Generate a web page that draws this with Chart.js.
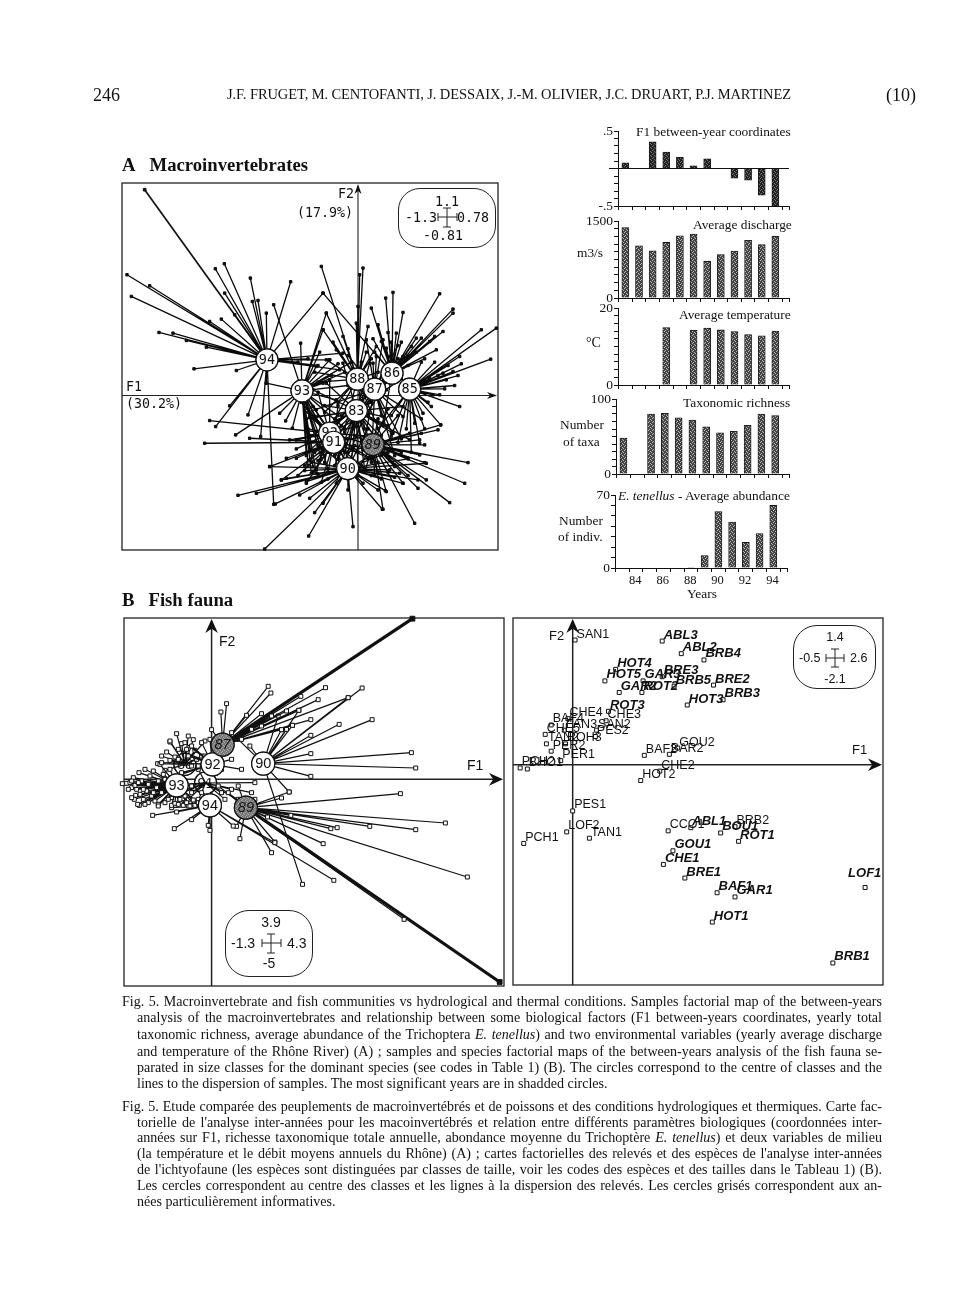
<!DOCTYPE html>
<html><head><meta charset="utf-8">
<script src="https://cdn.jsdelivr.net/npm/chart.js@4"></script>
<style>
html,body{margin:0;padding:0;background:#fff}
#page{position:relative;width:961px;height:1307px;overflow:hidden;color:#111;font-family:"Liberation Serif",serif;filter:blur(.35px)}
canvas{position:absolute}
.t{position:absolute;white-space:nowrap;transform:translateY(-50%);font-size:13.4px;line-height:1}
.c{transform:translate(-50%,-50%)}
.mono{font-family:"DejaVu Sans Mono",monospace;font-size:13.3px}
.sans{font-family:"Liberation Sans",sans-serif;font-size:14px}
.cap{position:absolute;left:122px;width:760px;font-size:14.05px;line-height:1;text-align:justify;text-align-last:justify;white-space:nowrap;transform:translateY(-50%)}
.ind{left:137px;width:745px}
.end{text-align-last:left}
.box{position:absolute;border:1.3px solid #222;background:#fff;box-sizing:border-box}
svg{position:absolute;overflow:visible}
</style></head><body>
<div id="page">
<div class="t" style="left:93px;top:95px;font-size:18px">246</div>
<div class="t" style="left:227px;top:94px;font-size:14.5px;letter-spacing:-.1px">J.F. FRUGET, M. CENTOFANTI, J. DESSAIX, J.-M. OLIVIER, J.C. DRUART, P.J. MARTINEZ</div>
<div class="t" style="left:886px;top:95px;font-size:18px">(10)</div>
<div class="t" style="left:122px;top:165px;font-size:18.7px;font-weight:bold">A&nbsp;&nbsp;&nbsp;Macroinvertebrates</div>
<div class="t" style="left:122px;top:600px;font-size:18.7px;font-weight:bold">B&nbsp;&nbsp;&nbsp;Fish fauna</div>

<canvas id="panelA" width="400" height="391" style="left:110px;top:171px"></canvas>
<canvas id="panelB1" width="404" height="392" style="left:112px;top:606px"></canvas>
<canvas id="panelB2" width="394" height="391" style="left:501px;top:606px"></canvas>
<canvas id="bar1" width="240" height="96" style="left:555px;top:120px"></canvas>
<canvas id="bar2" width="240" height="98" style="left:555px;top:210px"></canvas>
<canvas id="bar3" width="240" height="98" style="left:555px;top:297px"></canvas>
<canvas id="bar4" width="240" height="96" style="left:555px;top:388px"></canvas>
<canvas id="bar5" width="240" height="104" style="left:552px;top:484px"></canvas>

<div class="t mono" style="left:126px;top:387px">F1</div>
<div class="t mono" style="left:126px;top:404px">(30.2%)</div>
<div class="t mono" style="left:338px;top:194px">F2</div>
<div class="t mono" style="left:297px;top:213px">(17.9%)</div>
<div class="box" style="left:398px;top:188px;width:98px;height:60px;border-radius:22px"></div>
<div class="t c mono" style="left:447px;top:202px">1.1</div>
<div class="t mono" style="left:405px;top:218px">-1.3</div>
<div class="t mono" style="left:457px;top:218px">0.78</div>
<div class="t c mono" style="left:443px;top:236px">-0.81</div>
<svg style="left:447px;top:217px" width="1" height="1"><path d="M-9 0H10M-9 -4V4M10 -4V4M0 -9V10M-4 -9H4M-4 10H4" stroke="#222" fill="none"/></svg>

<div class="t sans" style="left:219px;top:641px">F2</div>
<div class="t sans" style="left:467px;top:765px">F1</div>
<div class="box" style="left:225px;top:910px;width:88px;height:67px;border-radius:24px"></div>
<div class="t c sans" style="left:271px;top:922px">3.9</div>
<div class="t sans" style="left:231px;top:943px">-1.3</div>
<div class="t sans" style="left:287px;top:943px">4.3</div>
<div class="t c sans" style="left:269px;top:963px">-5</div>
<svg style="left:271px;top:943px" width="1" height="1"><path d="M-9 0H10M-9 -4V4M10 -4V4M0 -9V10M-4 -9H4M-4 10H4" stroke="#222" fill="none"/></svg>

<div class="t sans" style="left:549px;top:635px;font-size:13px">F2</div>
<div class="t sans" style="left:852px;top:749px;font-size:13px">F1</div>
<div class="box" style="left:793px;top:625px;width:83px;height:64px;border-radius:24px"></div>
<div class="t c sans" style="left:835px;top:637px;font-size:12.5px">1.4</div>
<div class="t sans" style="left:799px;top:658px;font-size:12.5px">-0.5</div>
<div class="t sans" style="left:850px;top:658px;font-size:12.5px">2.6</div>
<div class="t c sans" style="left:835px;top:679px;font-size:12.5px">-2.1</div>
<svg style="left:835px;top:658px" width="1" height="1"><path d="M-9 0H9M-9 -4V4M9 -4V4M0 -9V9M-4 -9H4M-4 9H4" stroke="#222" fill="none"/></svg>

<div class="t" style="left:636px;top:132px">F1 between-year coordinates</div>
<div class="t" style="left:693px;top:225px">Average discharge</div>
<div class="t" style="left:577px;top:253px">m3/s</div>
<div class="t" style="left:679px;top:315px">Average temperature</div>
<div class="t" style="left:586px;top:343px;font-size:14px">°C</div>
<div class="t" style="left:683px;top:403px">Taxonomic richness</div>
<div class="t" style="left:560px;top:425px">Number</div>
<div class="t" style="left:563px;top:442px">of taxa</div>
<div class="t" style="left:618px;top:496px"><i>E. tenellus</i> - Average abundance</div>
<div class="t" style="left:559px;top:521px">Number</div>
<div class="t" style="left:558px;top:537px">of indiv.</div>
<div class="t" style="left:687px;top:594px">Years</div>

<div class="cap" style="top:1001px">Fig. 5. Macroinvertebrate and fish communities vs hydrological and thermal conditions. Samples factorial map of the between-years</div>
<div class="cap ind" style="top:1017px">analysis of the macroinvertebrates and relationship between some biological factors (F1 between-years coordinates, yearly total</div>
<div class="cap ind" style="top:1034px">taxonomic richness, average abundance of the Trichoptera <i>E. tenellus</i>) and two environmental variables (yearly average discharge</div>
<div class="cap ind" style="top:1051px">and temperature of the Rhône River) (A) ; samples and species factorial maps of the between-years analysis of the fish fauna se-</div>
<div class="cap ind" style="top:1067px">parated in size classes for the dominant species (see codes in Table 1) (B). The circles correspond to the centre of classes and the</div>
<div class="cap ind end" style="top:1083px">lines to the dispersion of samples. The most significant years are in shadded circles.</div>
<div class="cap" style="top:1106px">Fig. 5. Etude comparée des peuplements de macroinvertébrés et de poissons et des conditions hydrologiques et thermiques. Carte fac-</div>
<div class="cap ind" style="top:1122px">torielle de l'analyse inter-années pour les macoinvertébrés et relation entre différents paramètres biologiques (coordonnées inter-</div>
<div class="cap ind" style="top:1137px">années sur F1, richesse taxonomique totale annuelle, abondance moyenne du Trichoptère <i>E. tenellus</i>) et deux variables de milieu</div>
<div class="cap ind" style="top:1153px">(la température et le débit moyens annuels du Rhône) (A) ; cartes factorielles des relevés et des espèces de l'analyse inter-années</div>
<div class="cap ind" style="top:1169px">de l'ichtyofaune (les espèces sont distinguées par classes de taille, voir les codes des espèces et des tailles dans le Tableau 1) (B).</div>
<div class="cap ind" style="top:1185px">Les cercles correspondent au centre des classes et les lignes à la dispersion des relevés. Les cercles grisés correspondent aux an-</div>
<div class="cap ind end" style="top:1201px">nées particulièrement informatives.</div>
</div>
<script>
// ---- bar panels: one value per year ----
const years = [83,84,85,86,87,88,89,90,91,92,93,94];
const f1Coords = [.075,0,.355,.22,.15,.035,.13,0,-.13,-.155,-.355,-.5];
const discharge = [1370,1017,920,1083,1213,1246,717,848,913,1122,1043,1200];
const temperature = [null,null,null,14.9,null,14.2,14.8,14.3,13.9,13.1,12.8,14.0];
const richness = [48,null,80,81,75,72,63,55,57,65,80,78];
const abundance = [0,0,0,0,0,.5,12,54,44,24.5,33,60];
const yearTicks = [82.5,83.5,84.5,85.5,86.5,87.5,88.5,89.5,90.5,91.5,92.5,93.5,94.5,95];

// ---- panel A (macroinvertebrates): year centres, scores in axis units ----
const aRange = {xMin:-708,xMax:420,yMin:-463,yMax:637};
const aYears = ['94','93','88','86','85','87','83','92','91','89','90'];
const aCentreF1 = [-273,-168,-2,102,155,50,-5,-85,-73,45,-31];
const aCentreF2 = [107,14,49,67,19,19,-45,-113,-140,-147,-219];
const aShaded = ['89'];
const aEnds94 = [[-693,362],[-625,329],[-680,297],[-597,189],[-555,187],[-515,165],[-455,145],[-445,222],[-410,229],[-400,307],[-428,380],[-401,395],[-370,242],[-323,352],[-317,282],[-300,285],[-275,247],[-202,341],[-492,80],[-365,75],[-427,-93],[-385,-31],[-330,-58],[-275,37],[-292,-123],[-253,-326],[-105,307],[-85,107],[-45,127],[-55,77],[-150,110],[-120,90],[-180,100]];
const aEnds93 = [[-172,157],[-253,272],[-105,197],[-95,247],[-367,-118],[-235,-53],[-217,-76],[-197,-98],[-85,107],[-275,37],[-125,-43],[-105,37],[-125,87],[-145,-163],[-140,-233],[-125,-233],[-45,-163],[-65,-13],[-95,-123],[-135,-213],[-155,-180],[-80,60],[-60,95],[-115,130],[-50,-90],[-110,-190],[-100,-160],[-120,-150],[-90,-220],[-130,-120],[-70,-180],[-150,-210],[-40,70],[-20,100],[-30,30],[-60,-60]];
const aEnds88 = [[-110,387],[15,382],[5,362],[-95,247],[0,267],[-45,177],[-105,197],[30,207],[55,147],[-65,137],[-5,217],[-95,107],[-75,160],[-30,140],[25,130],[-130,70],[-120,40],[40,110],[60,70],[85,40],[-60,-20],[-70,-70],[30,-60],[-15,80],[10,100],[-40,-100],[20,-100],[70,-120],[-100,-50]];
const aEnds86 = [[245,305],[285,259],[285,247],[255,192],[190,172],[175,172],[135,249],[105,309],[83,292],[40,262],[60,212],[70,162],[90,189],[115,187],[215,162],[235,137],[85,142],[160,147],[230,177],[175,130],[200,110],[130,160],[45,170],[50,130],[-105,307],[150,120],[100,160],[120,110],[30,-50],[75,-90],[-20,-30]];
const aEnds85 = [[415,202],[370,197],[398,109],[305,117],[285,72],[305,-33],[245,2],[225,2],[255,67],[265,47],[220,-33],[170,-83],[185,-143],[195,-53],[248,-88],[300,60],[310,95],[260,20],[230,100],[215,50],[190,100],[290,30],[200,-100],[145,-100],[120,-140],[160,-170],[240,60],[270,90],[210,-20],[100,-60],[60,-100],[100,-120]];
const aEnds87 = [[25,167],[55,117],[135,117],[45,97],[135,-63],[95,117],[75,167],[120,150],[150,90],[170,130],[-30,120],[-50,-60],[100,-110],[130,-130],[-90,-110],[20,-130],[-40,-110],[190,-70],[-150,-50],[0,-80],[70,-60],[-20,-160],[40,-200],[-60,-190],[110,-180]];
const aEnds83 = [[-125,-63],[-105,-143],[75,-63],[105,-113],[-85,-83],[85,17],[-95,37],[-45,97],[35,97],[-135,17],[135,-33],[105,-163],[-145,-123],[155,-133],[15,-163],[-65,-263],[-155,-70],[60,-230],[110,-210],[-120,-195],[-30,-170],[40,-20],[-100,-30],[130,50],[-60,-120],[30,-120],[-20,-200],[20,-220],[70,-150],[-110,-100],[90,-90],[-70,-210],[0,-240],[-40,-230]];
const aEnds92 = [[-445,-75],[-85,47],[-145,-63],[-205,-133],[-185,-133],[-135,-33],[-145,-163],[-125,-223],[-5,-93],[55,-123],[-100,-200],[-160,-210],[-60,-220],[-30,-40],[-120,10],[-170,-20],[40,-190],[-185,-160],[-140,-120],[-30,-130],[-60,-170],[-110,-170],[10,-140],[-20,-80],[-150,-100]];
const aEnds91 = [[-460,-143],[-325,-128],[-265,-213],[-215,-188],[-155,-263],[-230,-253],[-155,-143],[-185,-188],[-145,-193],[-135,-228],[-130,-70],[-150,-40],[-30,-250],[-90,-230],[10,-210],[-170,-20],[-110,-260],[-60,-30],[30,-120],[60,-200],[-180,-240],[-120,-120],[-100,-180],[-40,-170],[-20,-220],[0,-170],[-60,-80],[-130,-170],[40,-160]];
const aEnds89 = [[330,-201],[320,-263],[275,-321],[170,-383],[200,-201],[205,-253],[180,-278],[248,-88],[185,-133],[200,-148],[185,-178],[135,-263],[110,-213],[85,-288],[75,-341],[155,-113],[190,-113],[150,-188],[110,-208],[240,-103],[60,-70],[120,-60],[20,-230],[90,-230],[150,-240],[-30,-170],[90,-40],[70,-180],[30,-190],[-10,-120],[0,-220],[130,-170],[50,-240],[100,-130]];
const aEnds90 = [[-280,-460],[-148,-421],[-360,-299],[-305,-293],[-248,-325],[-230,-253],[-175,-298],[-145,-308],[-130,-351],[-105,-323],[-15,-393],[-30,-283],[73,-341],[60,-283],[82,-285],[180,-253],[135,-263],[-265,-213],[-215,-248],[-155,-258],[205,-203],[95,-223],[125,-233],[15,-263],[40,-180],[-90,-170],[-140,-200],[-40,-130],[30,-100],[-110,-120],[90,-170],[150,-190],[-160,-225],[-120,-235],[-90,-250],[70,-250],[110,-245],[40,-240],[-10,-150],[-70,-120]];
const aEndsByYear = [aEnds94,aEnds93,aEnds88,aEnds86,aEnds85,aEnds87,aEnds83,aEnds92,aEnds91,aEnds89,aEnds90];
const aBoldEnd = [-640,617];

// ---- panel B left (fish samples) ----
const bRange = {xMin:-263,xMax:878,yMin:-620,yMax:484};
const bBackYears = ['88','91'];
const bBackF1 = [-80,-18];
const bBackF2 = [45,-11];
const bFrontYears = ['92','93','87','90','94','89'];
const bFrontF1 = [3,-105,33,155,-5,103];
const bFrontF2 = [45,-18,104,47,-78,-85];
const bShaded = ['87','89'];
const bEnds88 = [[-105,137],[-55,119],[-125,112],[-135,82],[-162,47],[-125,57],[-90,107],[-50,87],[-110,67],[-140,27],[-60,40],[-30,70],[-125,115],[-150,70],[-20,115],[-70,130],[-100,60],[-75,90],[-45,60]];
const bEnds92 = [[-80,110],[-30,110],[-150,50],[-100,90],[60,60],[90,30],[-20,70],[-140,0],[-5,120],[-60,100],[-40,40],[-70,70],[-90,20],[30,30]];
const bEnds87 = [[170,279],[178,259],[45,227],[28,202],[105,192],[150,197],[342,275],[268,249],[320,239],[225,205],[262,207],[150,160],[0,149],[210,149],[243,162],[298,179],[410,245],[120,150],[90,120],[180,190],[60,140]];
const bEnds90 = [[452,274],[410,245],[482,179],[383,165],[298,132],[298,77],[600,80],[613,34],[298,9],[210,149],[243,162],[262,207],[273,-315],[233,-38],[115,100],[80,120],[200,190],[225,150]];
const bEnds93 = [[-268,-13],[-255,-12],[-245,-10],[-240,-25],[-235,5],[-225,-30],[-218,20],[-215,-45],[-210,-5],[-205,-60],[-200,30],[-195,-35],[-190,-15],[-185,10],[-180,-50],[-175,25],[-170,-65],[-165,-25],[-160,-75],[-155,45],[-150,-40],[-145,15],[-140,-70],[-135,-10],[-130,-60],[-125,30],[-120,-78],[-115,-45],[-110,-72],[-100,-75],[-95,-60],[-85,-78],[-75,-70],[-65,-80],[-55,-62],[-50,-78],[-217,-78],[-222,-75],[-190,-70],[-160,-80],[-228,-48],[-232,-60],[-250,-30],[-240,-5],[-230,-18],[-220,-10],[-205,-30],[-175,-40],[-160,-5],[-60,-20],[-40,-70],[-30,-40],[-80,-50],[-200,-75],[-240,-55]];
const bEnds91 = [[-80,-70],[-120,-55],[-60,-40],[60,-30],[130,-10],[120,-40],[-150,-30],[-100,-15],[40,-60],[-90,-35],[-45,-75],[-70,-60],[30,-40],[80,-60],[-40,30]];
const bEnds94 = [[-5,-153],[-10,-138],[65,-140],[-112,-148],[-177,-108],[-60,-121],[-105,-98],[190,-190],[367,-303],[-70,-80],[-90,-70],[-120,-85],[-40,-60]];
const bEnds89 = [[567,-43],[233,-38],[210,-56],[702,-131],[613,-151],[475,-141],[377,-145],[358,-148],[238,-108],[168,-113],[335,-193],[190,-188],[180,-220],[85,-178],[75,-141],[768,-293],[130,-60],[578,-420],[50,-40],[20,-20],[80,-20]];
const bBackEnds = [bEnds88,bEnds91];
const bFrontEnds = [bEnds92,bEnds93,bEnds87,bEnds90,bEnds94,bEnds89];
const bThickEnd87 = [603,482];
const bThickEnd89 = [865,-608];

// ---- panel B right (species), real F1/F2 coordinates ----
const speciesNames = ['SAN1','ABL3','ABL2','BRB4','HOT4','HOT5','GAR3','BRE3','BRB5','BRE2','GAR2','ROT2','BRB3','HOT3','ROT3','CHE3','BAF4','CHE4','FAN3','SAN2','PES2','CHE5','TAN2','ROH3','PER2','PER1','PCH2','BHO1','GOU2','BAF2','BAR2','CHE2','HOT2','PES1','LOF2','TAN1','PCH1','CCO1','ABL1','BOU1','BRB2','ROT1','GOU1','CHE1','BRE1','BAF1','GAR1','HOT1','LOF1','BRB1'];
const speciesF1 = [.02,.75,.91,1.10,.36,.27,.59,.75,.85,1.18,.39,.58,1.26,.96,.30,.28,-.18,-.04,-.07,.20,.19,-.23,-.22,-.06,-.18,-.10,-.44,-.38,.88,.60,.81,.73,.57,0,-.05,.14,-.41,.80,.99,1.24,1.36,1.39,.84,.76,.94,1.21,1.36,1.17,2.45,2.18];
const speciesF2 = [1.19,1.18,1.06,1.00,.91,.80,.80,.84,.75,.76,.69,.69,.62,.57,.51,.42,.38,.44,.33,.33,.27,.29,.20,.20,.13,.04,-.03,-.04,.16,.09,.10,-.06,-.15,-.44,-.64,-.70,-.75,-.63,-.60,-.65,-.59,-.73,-.82,-.95,-1.08,-1.22,-1.26,-1.50,-1.17,-1.89];
const italicSpecies = ['ABL3','ABL2','BRB4','HOT4','HOT5','GAR3','BRE3','BRB5','BRE2','GAR2','ROT2','BRB3','HOT3','ROT3','ABL1','BOU1','ROT1','GOU1','CHE1','BRE1','BAF1','GAR1','HOT1','LOF1','BRB1'];

function stipple(a,b){
  const c=document.createElement('canvas');c.width=c.height=4;const g=c.getContext('2d');
  g.fillStyle=a;g.fillRect(0,0,4,4);g.fillStyle=b;
  [[0,0],[2,1],[1,2],[3,3]].forEach(p=>g.fillRect(p[0],p[1],1,1));
  return g.createPattern(c,'repeat');
}
const fillDark=stipple('#222','#777'), fillMid=stipple('#444','#bbb'), fillCircle=stipple('#777','#aaa');

const framePlugin={id:'frame',beforeDatasetsDraw(ch,_,o){
  if(!o.axes)return;
  const a=ch.chartArea,c=ch.ctx,X=ch.scales.x.getPixelForValue(0),Y=ch.scales.y.getPixelForValue(0);
  c.save();c.strokeStyle='#222';c.fillStyle='#111';c.lineWidth=o.frame;c.strokeRect(a.left,a.top,a.width,a.height);
  c.lineWidth=o.axes;c.beginPath();
  c.moveTo(a.left,Y);c.lineTo(a.right-3,Y);c.moveTo(X,a.bottom);c.lineTo(X,a.top+3);c.stroke();
  const h=o.head,w=h*o.wide,n=h*.7,R=a.right-1,T=a.top+1;
  c.beginPath();c.moveTo(R,Y);c.lineTo(R-h,Y-w);c.lineTo(R-n,Y);c.lineTo(R-h,Y+w);c.closePath();
  c.moveTo(X,T);c.lineTo(X-w,T+h);c.lineTo(X,T+n);c.lineTo(X+w,T+h);c.closePath();
  c.fill();
  c.restore();
}};
const centrePlugin={id:'centres',afterDatasetDraw(ch,args,o){
  const ds=ch.data.datasets[args.index];
  if(!ds.centreLabels)return;
  const c=ch.ctx;
  args.meta.data.forEach((el,i)=>{
    const lab=ds.centreLabels[i];
    el.draw(c,{left:0,top:0,right:ch.width,bottom:ch.height});
    c.save();c.fillStyle='#111';c.textAlign='center';c.textBaseline='middle';
    c.font=(o.shaded.includes(lab)?'italic ':'')+o.font;
    c.fillText(lab,el.x,el.y+.5);c.restore();
  });
}};
const speciesPlugin={id:'species',afterDatasetsDraw(ch,_,o){
  if(!o.names)return;
  const c=ch.ctx,m=ch.getDatasetMeta(0);
  m.data.forEach((el,i)=>{
    const n=o.names[i];c.save();c.fillStyle='#111';c.textBaseline='alphabetic';
    c.font=o.italic.includes(n)?'italic bold 13px "Liberation Sans",sans-serif':'12.5px "Liberation Sans",sans-serif';
    if(n==='LOF1')c.fillText(n,el.x-17,el.y-10);else c.fillText(n,el.x+1.5,el.y-2.5);
    c.restore();
  });
}};
const zeroPlugin={id:'zero',afterDatasetsDraw(ch,_,o){
  if(!o.show)return;
  const c=ch.ctx,a=ch.chartArea,y=ch.scales.y.getPixelForValue(0);
  c.save();c.strokeStyle='#111';c.lineWidth=1;c.beginPath();c.moveTo(a.left-9,y);c.lineTo(a.right,y);c.stroke();c.restore();
}};
Chart.register(framePlugin,centrePlugin,speciesPlugin,zeroPlugin);
Chart.defaults.animation=false;Chart.defaults.responsive=false;Chart.defaults.events=[];

function star(cx,cy,ends,color,width,radius,style,fill){
  const data=[];ends.forEach(e=>{data.push({x:cx,y:cy},{x:e[0],y:e[1]});});
  return {type:'scatter',showLine:true,data,borderColor:color,borderWidth:width,order:1,clip:false,tension:0,
    pointStyle:style,pointBackgroundColor:fill,pointBorderColor:color,pointBorderWidth:1,
    pointRadius:c=>c.dataIndex%2?radius:0};
}
function factorChart(id,range,pad,datasets,plugin){
  return new Chart(document.getElementById(id),{type:'scatter',data:{datasets},options:{
    maintainAspectRatio:false,layout:{padding:pad,autoPadding:false},
    scales:{x:{type:'linear',display:false,min:range.xMin,max:range.xMax},y:{type:'linear',display:false,min:range.yMin,max:range.yMax}},
    plugins:Object.assign({legend:{display:false},tooltip:{enabled:false}},plugin)}});
}
function centres(f1,f2,labels,shaded,radius,order){
  return {data:f1.map((v,i)=>({x:v,y:f2[i]})),centreLabels:labels,order,clip:false,pointRadius:radius,pointStyle:'circle',showLine:false,
    pointBorderColor:'#111',pointBorderWidth:1.2,
    pointBackgroundColor:labels.map(l=>shaded.includes(l)?fillCircle:'#fff')};
}

// Panel A
const aSets=[centres(aCentreF1,aCentreF2,aYears,aShaded,11,0)];
aEndsByYear.forEach((e,i)=>aSets.push(star(aCentreF1[i],aCentreF2[i],e,'#0a0a0a',1.3,1.7,'rect','#111')));
aSets.push(star(aCentreF1[0],aCentreF2[0],[aBoldEnd],'#111',1.7,1.9,'rect','#111'));
factorChart('panelA',aRange,{left:12,right:12,top:12,bottom:12},aSets,{
  frame:{frame:1.3,axes:1.1,head:10,wide:.35},centres:{shaded:aShaded,font:'13.5px "DejaVu Sans Mono",monospace'}});

// Panel B left
const bSets=[centres(bFrontF1,bFrontF2,bFrontYears,bShaded,11.5,0)];
bFrontEnds.forEach((e,i)=>bSets.push(star(bFrontF1[i],bFrontF2[i],e,'#111',1.2,2.8,'rect','#fff')));
bBackEnds.forEach((e,i)=>bSets.push(star(bBackF1[i],bBackF2[i],e,'#111',1.2,2.8,'rect','#fff')));
bSets.push(star(bFrontF1[2],bFrontF2[2],[bThickEnd87],'#111',3.2,3.4,'rect','#111'));
bSets.push(star(bFrontF1[5],bFrontF2[5],[bThickEnd89],'#111',3.2,3.4,'rect','#111'));
bSets.push(centres(bBackF1,bBackF2,bBackYears,bShaded,11,2));
factorChart('panelB1',bRange,{left:12,right:12,top:12,bottom:12},bSets,{
  frame:{frame:1.3,axes:1.5,head:14,wide:.45},centres:{shaded:bShaded,font:'14.5px "Liberation Sans",sans-serif'}});

// Panel B right
factorChart('panelB2',{xMin:-.5,xMax:2.6,yMin:-2.1,yMax:1.4},{left:12,right:12,top:12,bottom:12},[{
  data:speciesNames.map((n,i)=>({x:speciesF1[i],y:speciesF2[i]})),clip:false,showLine:false,pointStyle:'rect',pointRadius:2.8,
  pointBackgroundColor:'#fff',pointBorderColor:'#111',pointBorderWidth:1}],{
  frame:{frame:1.3,axes:1.5,head:14,wide:.45},species:{names:speciesNames,italic:italicSpecies},centres:{shaded:[]}});

// Bars
function barChart(id,values,yMin,yMax,step,fill,lab,g){
  const yTicks=[];for(let k=0;k<=Math.round((yMax-yMin)/step);k++)yTicks.push(+(yMin+k*step).toFixed(3));
  return new Chart(document.getElementById(id),{type:'bar',data:{datasets:[{
    data:years.map((y,i)=>({x:y,y:values[i]})),backgroundColor:fill,borderColor:'#111',borderWidth:.8,barThickness:7}]},options:{
    maintainAspectRatio:false,layout:{padding:{left:0,right:g.right,top:g.top,bottom:0},autoPadding:false},
    scales:{
      x:{type:'linear',min:82.46,max:95,offset:false,grid:{offset:false,drawOnChartArea:false,color:'#111',tickLength:4,tickColor:'#111'},border:{color:'#111',width:1},
        afterFit:s=>{s.height=g.xh},afterBuildTicks:s=>{s.ticks=yearTicks.map(v=>({value:v}))},
        ticks:{autoSkip:false,maxRotation:0,padding:1,color:'#111',labelOffset:6,font:{family:'"Liberation Serif",serif',size:12.5},
          callback:v=>(g.years&&(v+.5)%2===0&&v<95)?String(v+.5):''}},
      y:{type:'linear',min:yMin,max:yMax,grid:{drawOnChartArea:false,tickLength:4,tickColor:'#111'},border:{color:'#111',width:1},
        afterFit:s=>{s.width=g.yw},afterBuildTicks:s=>{s.ticks=yTicks.map(v=>({value:v}))},
        ticks:{autoSkip:false,padding:1,color:'#111',font:{family:'"Liberation Serif",serif',size:13.5},
          callback:v=>lab[v]!==undefined?lab[v]:''}}},
    plugins:{legend:{display:false},tooltip:{enabled:false},zero:{show:g.zero},centres:{shaded:[]}}}});
}
barChart('bar1',f1Coords,-.5,.5,.1,fillDark,{'0.5':'.5','-0.5':'-.5'},{right:6,top:11,xh:10,yw:63,zero:true});
barChart('bar2',discharge,0,1500,150,fillMid,{1500:'1500',0:'0'},{right:6,top:11,xh:10,yw:63});
barChart('bar3',temperature,0,20,2,fillMid,{20:'20',0:'0'},{right:6,top:11,xh:10,yw:63});
barChart('bar4',richness,0,100,10,fillMid,{100:'100',0:'0'},{right:6,top:11,xh:10,yw:61});
barChart('bar5',abundance,0,70,10,fillMid,{70:'70',0:'0'},{right:5,top:11,xh:20,yw:63,years:true});
</script>
</body></html>
